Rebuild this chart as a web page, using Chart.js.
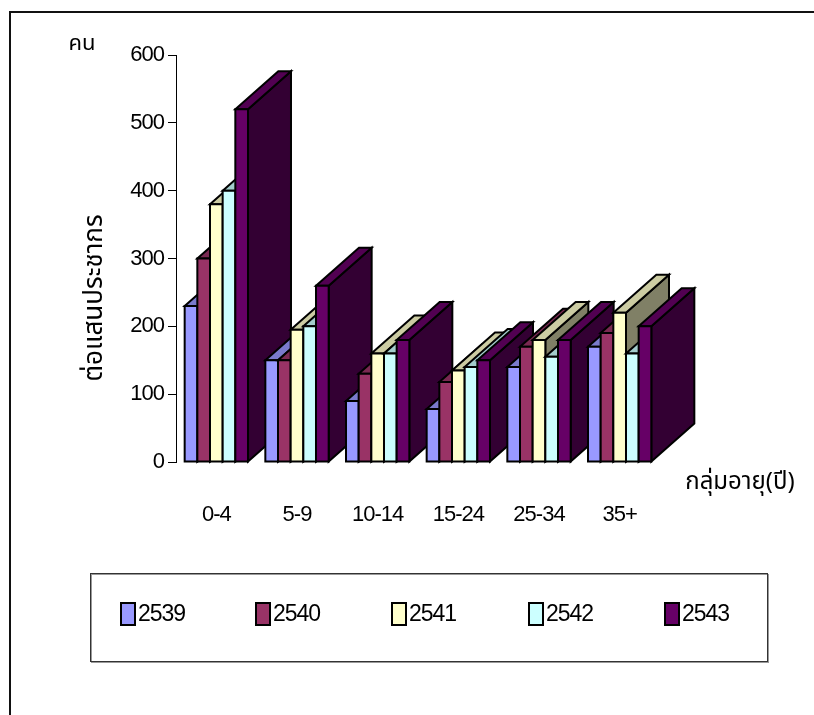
<!DOCTYPE html>
<html>
<head>
<meta charset="utf-8">
<script src="https://cdn.jsdelivr.net/npm/chart.js@4/dist/chart.umd.min.js"></script>
<style>
html,body{margin:0;padding:0;background:#fff;}
#wrap{width:814px;height:715px;position:relative;}
</style>
</head>
<body>
<div id="wrap"><canvas id="c" width="814" height="715"></canvas></div>
<script>
const categories = ['0-4', '5-9', '10-14', '15-24', '25-34', '35+'];
const years = ['2539', '2540', '2541', '2542', '2543'];
const v2539 = [230, 150, 90, 78, 140, 170];
const v2540 = [300, 150, 130, 118, 170, 190];
const v2541 = [380, 195, 160, 135, 180, 220];
const v2542 = [400, 200, 160, 140, 155, 160];
const v2543 = [520, 260, 180, 150, 180, 200];
const yMax = 600;
const yStep = 100;
const yUnit = 'คน';
const yTitle = 'ต่อแสนประชากร';
const xTitle = 'กลุ่มอายุ(ปี)';

const colors = ['#9999FF', '#993366', '#FFFFCC', '#CCFFFF', '#660066'];
const seriesValues = [v2539, v2540, v2541, v2542, v2543];

const FONT = "'Liberation Sans', Arial, sans-serif";
const THAI = "'Noto Sans Thai', 'Noto Sans', 'DejaVu Sans', 'Liberation Sans', sans-serif";

function shade(hex, f) {
  const n = parseInt(hex.slice(1), 16);
  const r = Math.round(((n >> 16) & 255) * f), g = Math.round(((n >> 8) & 255) * f), b = Math.round((n & 255) * f);
  return `rgb(${r},${g},${b})`;
}

const DX = 43, DY = -38;

const bar3d = {
  id: 'bar3d',
  afterDatasetsDraw(chart) {
    const ctx = chart.ctx;
    const metas = chart.getSortedVisibleDatasetMetas();
    ctx.save();
    ctx.lineJoin = 'miter';
    ctx.lineWidth = 2;
    ctx.strokeStyle = '#000';
    for (let i = 0; i < categories.length; i++) {
      metas.forEach((meta, j) => {
        const el = meta.data[i];
        const p = el.getProps(['x', 'y', 'base', 'width'], true);
        const x0 = p.x - p.width / 2, x1 = p.x + p.width / 2;
        const top = Math.min(p.y, p.base), bot = Math.max(p.y, p.base);
        const col = colors[j];
        ctx.beginPath();
        ctx.moveTo(x1, top); ctx.lineTo(x1 + DX, top + DY); ctx.lineTo(x1 + DX, bot + DY); ctx.lineTo(x1, bot); ctx.closePath();
        ctx.fillStyle = shade(col, 0.5); ctx.fill(); ctx.stroke();
        ctx.beginPath();
        ctx.moveTo(x0, top); ctx.lineTo(x0 + DX, top + DY); ctx.lineTo(x1 + DX, top + DY); ctx.lineTo(x1, top); ctx.closePath();
        ctx.fillStyle = shade(col, 0.8); ctx.fill(); ctx.stroke();
        ctx.beginPath();
        ctx.rect(x0, top, x1 - x0, bot - top);
        ctx.fillStyle = col; ctx.fill(); ctx.stroke();
      });
    }
    ctx.restore();
  }
};

const decor = {
  id: 'decor',
  beforeDraw(chart) {
    const ctx = chart.ctx;
    ctx.fillStyle = '#fff';
    ctx.fillRect(0, 0, chart.width, chart.height);
    ctx.save();
    ctx.strokeStyle = '#111';
    ctx.lineWidth = 2;
    ctx.beginPath();
    ctx.moveTo(10, 715); ctx.lineTo(10, 12); ctx.lineTo(814, 12);
    ctx.stroke();
    ctx.restore();
    ctx.letterSpacing = '-1px';
  },
  afterDraw(chart) {
    const ctx = chart.ctx;
    ctx.save();
    ctx.letterSpacing = '0px';
    ctx.fillStyle = '#000';
    ctx.textAlign = 'center';
    ctx.textBaseline = 'middle';
    ctx.font = '22px ' + THAI;
    ctx.fillText(yUnit, 82, 46);
    ctx.font = '24px ' + THAI;
    ctx.fillText(xTitle, 740, 484);
    ctx.save();
    ctx.translate(97, 298);
    ctx.rotate(-Math.PI / 2);
    ctx.font = '26px ' + THAI;
    ctx.fillText(yTitle, 0, 0);
    ctx.restore();
    const bx = 90.5, by = 573.5, bw = 677, bh = 88;
    ctx.strokeStyle = '#999';
    ctx.lineWidth = 1;
    ctx.strokeRect(bx + 1, by + 1, bw, bh);
    ctx.strokeStyle = '#333';
    ctx.strokeRect(bx, by, bw, bh);
    const starts = [121, 256, 392, 529, 665];
    ctx.textAlign = 'left';
    ctx.letterSpacing = '-1px';
    ctx.font = '23px ' + FONT;
    chart.data.datasets.forEach((ds, j) => {
      const sx = starts[j];
      ctx.fillStyle = ds.backgroundColor;
      ctx.fillRect(sx, 603, 14, 22);
      ctx.strokeStyle = '#000';
      ctx.lineWidth = 2;
      ctx.strokeRect(sx, 603, 14, 22);
      ctx.fillStyle = '#000';
      ctx.fillText(ds.label, sx + 17, 615);
    });
    ctx.restore();
  }
};

new Chart(document.getElementById('c'), {
  type: 'bar',
  data: {
    labels: categories,
    datasets: years.map((y, j) => ({
      label: y,
      data: seriesValues[j],
      backgroundColor: colors[j],
      borderColor: '#000',
      borderWidth: 1,
      categoryPercentage: 0.785,
      barPercentage: 1.0
    }))
  },
  options: {
    responsive: false,
    animation: false,
    devicePixelRatio: 1,
    layout: { padding: { left: 116, top: 55, right: 154, bottom: 153 } },
    plugins: { legend: { display: false }, tooltip: { enabled: false } },
    scales: {
      x: {
        grid: { display: false },
        border: { display: false },
        ticks: { color: '#000', font: { family: FONT, size: 22 }, padding: 32, maxRotation: 0 },
        afterFit(s) { s.height = 100; }
      },
      y: {
        min: 0, max: yMax,
        ticks: { stepSize: yStep, color: '#000', font: { family: FONT, size: 22 }, padding: 4 },
        grid: { drawOnChartArea: false, drawTicks: true, tickLength: 8, color: '#000' },
        border: { display: true, color: '#000', width: 1 },
        afterFit(s) { s.width = 60; }
      }
    }
  },
  plugins: [decor, bar3d]
});
</script>
</body>
</html>
